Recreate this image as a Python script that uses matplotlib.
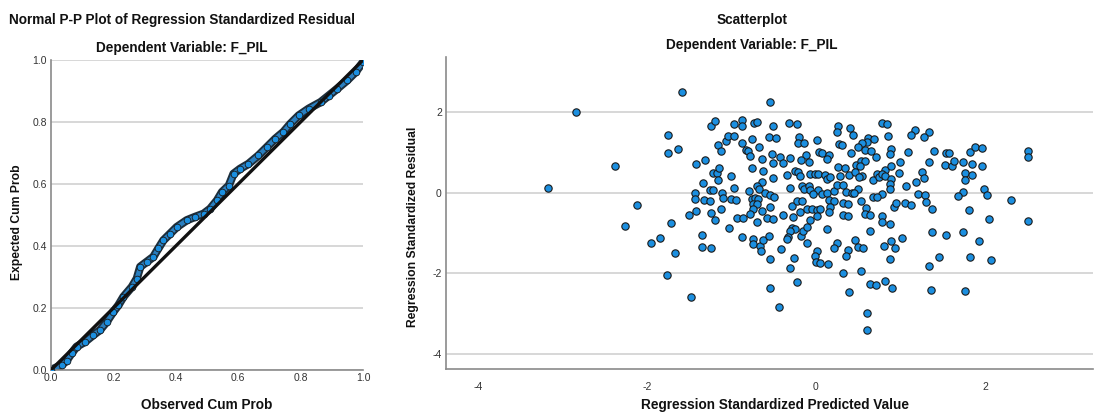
import matplotlib
matplotlib.use("Agg")
import matplotlib.pyplot as plt
import numpy as np

plt.rcParams['font.family'] = ['Liberation Sans', 'DejaVu Sans']
plt.rcParams['axes.unicode_minus'] = False

# ---------------- P-P plot data ----------------
obs_cum = [0.0, 0.034, 0.05, 0.066, 0.082, 0.109, 0.136, 0.157, 0.179, 0.20, 0.216,
           0.232, 0.259, 0.275, 0.286, 0.307, 0.328, 0.344, 0.360, 0.382, 0.403,
           0.435, 0.462, 0.489, 0.510, 0.532, 0.548, 0.570, 0.585, 0.606, 0.633,
           0.665, 0.692, 0.719, 0.745, 0.767, 0.794, 0.826, 0.864, 0.890, 0.917,
           0.949, 0.976, 1.0]
exp_cum = [0.0, 0.016, 0.03, 0.054, 0.075, 0.091, 0.113, 0.129, 0.156, 0.188, 0.209,
           0.236, 0.268, 0.295, 0.333, 0.349, 0.365, 0.392, 0.418, 0.440, 0.461,
           0.483, 0.494, 0.504, 0.520, 0.547, 0.574, 0.595, 0.633, 0.649, 0.665,
           0.692, 0.719, 0.746, 0.768, 0.794, 0.821, 0.843, 0.864, 0.885, 0.907,
           0.934, 0.961, 0.993]
pp_ticks = [0.0, 0.2, 0.4, 0.6, 0.8, 1.0]

# ---------------- Scatterplot data ----------------
pred = [-3.17, -2.84, -2.38, -2.26, -2.12, -1.95, -1.85, -1.76, -1.75, -1.75, -1.72,
        -1.67, -1.63, -1.59, -1.50, -1.48, -1.43, -1.43, -1.42, -1.42, -1.35, -1.35,
        -1.34, -1.33, -1.31, -1.26, -1.25, -1.24, -1.24, -1.24, -1.22, -1.22, -1.19,
        -1.19, -1.17, -1.16, -1.16, -1.15, -1.13, -1.12, -1.11, -1.10, -1.06, -1.04,
        -1.03, -1.00, -1.00, -0.97, -0.97, -0.97, -0.95, -0.94,
        -0.543, -0.878, -0.878, -0.732, -0.70, -0.504, -0.315, -0.228, 0.264, 0.244,
        0.402, 0.441, 0.776, 0.846, 0.854, 1.169, 1.13, 1.339, 1.28, -0.76, -0.559,
        -0.476, -0.20, -0.209, -0.142, 0.012, 0.622, 0.689, 0.606, 0.551, 0.492, 0.579,
        0.657, -0.878, -0.669, -0.827, -0.80, -0.78, -0.638, -0.524, -0.425, -0.307,
        -0.118, 0.035, 0.075, 0.154, 0.272, 0.311, 0.409, 0.709, 0.894, 0.882, 1.091,
        1.394, 1.543, 1.571, 1.819, 1.878, 1.969, 2.508, 2.508, -0.504, -0.386, -0.181,
        -0.079, 0.126, 0.264, 0.343, 0.48, 0.528, 0.579, 0.52, 0.815, 0.894, 1.0, 1.339,
        1.531, 1.614, 1.634, 1.74, 1.85, 1.969, -0.76, -0.622, -0.504, -0.346, -0.248,
        -0.209, -0.189, -0.071, -0.012, 0.028, 0.106, 0.126, 0.165, 0.283, 0.39, 0.461,
        0.551, 0.508, 0.677, 0.717, 0.744, 0.787, 0.823, 0.886, 0.984, 0.882, 1.071,
        1.189, 1.26, 1.28, 1.76, 1.76, 1.85, -0.642, -0.70, -0.787, -0.669, -0.602,
        -0.543, -0.492, -0.307, -0.161, -0.142, -0.083, -0.071, 0.028, -0.031, 0.067,
        0.126, 0.217, 0.244, 0.323, 0.354, 0.429, 0.492, 0.453, 0.776, 0.874, 1.213,
        1.287, 1.74, 1.681, 1.988, 2.024, 2.315, -0.76, -0.72, -0.681, -0.74, -0.70,
        -0.748, -0.642, -0.543, -0.78, -0.583, -0.512, -0.866, -0.386, -0.287, -0.228,
        -0.169, -0.189, -0.11, -0.051, 0.008, 0.047, 0.157, 0.213, 0.165, 0.154, 0.323,
        0.374, 0.315, 0.382, 0.539, 0.598, 0.579, 0.638, 0.677, 0.717, 0.776, 0.776,
        0.882, 0.921, 0.953, 1.051, 1.13, 1.299, 1.374, 1.807, 2.047, 2.508, -0.878,
        -0.74, -0.748, -0.661, -0.63, -0.65, -0.555, -0.693, -0.276, -0.287, -0.248,
        -0.307, -0.327, -0.346, -0.181, -0.157, -0.102, -0.071, 0.016, -0.11, 0.126,
        0.244, 0.213, 0.382, 0.35, 0.465, 0.496, 0.559, 0.638, 0.807, 0.886, 0.933,
        1.024, 1.378, 1.535, 1.74, 1.929, -0.413, -0.26, -0.307, -0.228, -0.543,
        -0.543, -0.433, 0.016, -0.012, 0.0, 0.047, 0.142, 0.323, 0.394, 0.531, 0.638,
        0.709, 0.815, 0.906, 0.882, 0.602, 0.602, 1.339, 1.457, 1.362, 1.819, 1.76,
        2.067]
resid = [0.11, 2.0, 0.66, -0.83, -0.31, -1.24, -1.13, -2.04, 1.42, 0.98, -0.76,
         -1.50, 1.09, 2.50, -0.55, -2.59, 0.0, -0.16, -0.45, 0.70, -1.05, -1.34,
         0.25, -0.19, 0.81, 0.07, -0.22, 1.65, -0.51, -1.38, 0.48, 0.07, 1.78,
         -0.68, 0.48, 1.19, 0.31, 0.60, -0.41, 1.02, 0.0, -0.14, 1.29, 1.41,
         -0.88, 0.40, -0.17, 1.69, 0.11, 1.40, -0.18, -0.64,
         2.24, 1.80, 1.65, 1.72, 1.74, 1.65, 1.72, 1.69, 1.64, 1.50,
         1.59, 1.42, 1.72, 1.69, 1.40, 1.56, 1.43, 1.49, 1.38, 1.32, 1.38,
         1.36, 1.38, 1.24, 1.22, 1.31, 1.36, 1.32, 1.26, 1.22, 1.12, 1.06,
         1.04, 1.22, 1.14, 1.06, 1.03, 0.91, 0.84, 0.95, 0.89, 0.86,
         0.92, 1.00, 0.98, 0.93, 1.20, 1.18, 0.99, 0.89, 1.08, 0.95, 1.01,
         1.04, 0.98, 0.98, 1.01, 1.14, 1.11, 1.04, 0.89, 0.73, 0.74, 0.80,
         0.76, 0.83, 0.63, 0.60, 0.69, 0.79, 0.79, 0.67, 0.55, 0.67, 0.77, 0.77,
         0.69, 0.67, 0.79, 0.75, 0.72, 0.67, 0.60, 0.53, 0.35, 0.44, 0.54,
         0.50, 0.40, 0.47, 0.45, 0.46, 0.44, 0.33, 0.38, 0.42, 0.44, 0.52,
         0.40, 0.38, 0.31, 0.45, 0.38, 0.46, 0.40, 0.34, 0.48, 0.21, 0.17,
         0.26, 0.51, 0.37, 0.48, 0.31, 0.43, 0.27, 0.17, 0.04, 0.08, -0.02,
         -0.06, -0.10, 0.12, 0.17, 0.08, 0.17, 0.07, 0.07, -0.03, -0.03,
         -0.02, 0.03, 0.18, 0.20, 0.02, -0.02, 0.10, -0.02, -0.04, 0.08, -0.04,
         -0.05, 0.02, -0.08, 0.08, -0.07, -0.19, -0.17, -0.13, -0.17, -0.28, -0.28,
         -0.41, -0.45, -0.36, -0.54, -0.64, -0.66, -0.64, -0.56, -0.33, -0.20,
         -0.22, -0.47, -0.40, -0.41, -0.43, -0.40, -0.19, -0.22, -0.35, -0.47, -0.26,
         -0.28, -0.55, -0.58, -0.21, -0.38, -0.53, -0.55, -0.10, -0.12, -0.58, -0.74,
         -0.78, -0.36, -0.25, -0.26, -0.30, -0.23, -0.40, -0.43, -0.66, -0.70, -1.09,
         -1.15, -1.28, -1.32, -1.17, -1.45, -1.07, -0.72, -0.60, -0.88, -0.91,
         -0.94, -1.11, -1.16, -1.07, -0.94, -0.84, -0.69, -0.57, -1.24, -0.91,
         -1.26, -1.38, -1.42, -1.57, -1.17, -1.35, -1.36, -0.96, -1.32, -1.20, -1.37,
         -1.12, -0.97, -1.04, -0.97, -1.19, -1.40, -1.62, -1.88, -2.21, -1.64,
         -2.37, -2.84, -1.44, -1.57, -1.72, -1.75, -1.78, -2.00, -2.46, -1.93, -2.26,
         -2.29, -2.20, -2.37, -1.64, -2.98, -3.40, -1.82, -1.59, -2.41, -1.59, -2.43,
         -1.68]
sc_xticks = [-4, -2, 0, 2]
sc_yticks = [-4, -2, 0, 2]

W, H = 1094, 412
fig = plt.figure(figsize=(W / 100, H / 100), dpi=100)

blue = '#1b8fe0'
edge = '#1a1a1a'
grid_c = '#d4d4d4'
spine_c = '#8a8a8a'
tick_c = '#333333'

def fx(px):
    return px / W

def fy(py):
    return 1 - py / H

def style(ax):
    for s in ('top', 'right'):
        ax.spines[s].set_visible(False)
    for s in ('left', 'bottom'):
        ax.spines[s].set_color(spine_c)
        ax.spines[s].set_linewidth(1.2)
    ax.tick_params(length=0, labelsize=7.5, labelcolor=tick_c, pad=3)
    ax.yaxis.grid(True, color=grid_c, linewidth=1.3)
    ax.set_axisbelow(True)

# ---- left: P-P plot ----
ax1 = fig.add_axes([fx(51), fy(370), fx(363) - fx(51), fy(60) - fy(370)])
style(ax1)
ax1.set_xlim(0, 1)
ax1.set_ylim(0, 1)
ax1.set_xticks(pp_ticks)
ax1.set_yticks(pp_ticks)
ax1.set_xticklabels([f'{t:.1f}' for t in pp_ticks])
ax1.set_yticklabels([f'{t:.1f}' for t in pp_ticks])
ax1.plot(obs_cum, exp_cum, color='#1d2f3d', linewidth=6.0, solid_capstyle='round',
         solid_joinstyle='round', zorder=2)
ax1.plot(obs_cum, exp_cum, color='#2a7fc0', linewidth=3.2, solid_capstyle='round',
         solid_joinstyle='round', zorder=2.5)
ax1.plot(obs_cum, exp_cum, linestyle='none', marker='o', markersize=4.8,
         markerfacecolor=blue, markeredgecolor=edge, markeredgewidth=0.6, zorder=3)
ax1.plot([0, 1], [0, 1], color='#111111', linewidth=2.4, zorder=4)
ax1.tick_params(axis='x', pad=2)

# ---- right: scatterplot ----
ax2 = fig.add_axes([fx(446), fy(369), fx(1093) - fx(446), fy(57) - fy(369)])
style(ax2)
ax2.set_xlim(-4.38, 3.28)
ax2.set_ylim(-4.37, 3.36)
ax2.set_xticks(sc_xticks)
ax2.set_yticks(sc_yticks)
ax2.tick_params(axis='x', pad=9)
ax2.scatter(pred, resid, s=28, c=blue, edgecolors=edge, linewidths=0.8, zorder=3)

# ---- texts ----
tb = dict(fontweight='bold', fontsize=9.8, color='#111111', ha='center', va='center')
tr = dict(tb, fontsize=8.7)
fig.text(fx(182), fy(20), 'Normal P-P Plot of Regression Standardized Residual', **tb)
fig.text(fx(182), fy(48), 'Dependent Variable: F_PIL', **tb)
fig.text(fx(207), fy(405), 'Observed Cum Prob', **tb)
fig.text(fx(17), fy(222), 'Expected Cum Prob', rotation=90, **tr)
fig.text(fx(752), fy(20), 'Scatterplot', **tb)
fig.text(fx(752), fy(45), 'Dependent Variable: F_PIL', **tb)
fig.text(fx(775), fy(405), 'Regression Standardized Predicted Value', **tb)
fig.text(fx(413), fy(227), 'Regression Standardized Residual', rotation=90, **tr)

fig.savefig('out.png', dpi=100, facecolor='white')
